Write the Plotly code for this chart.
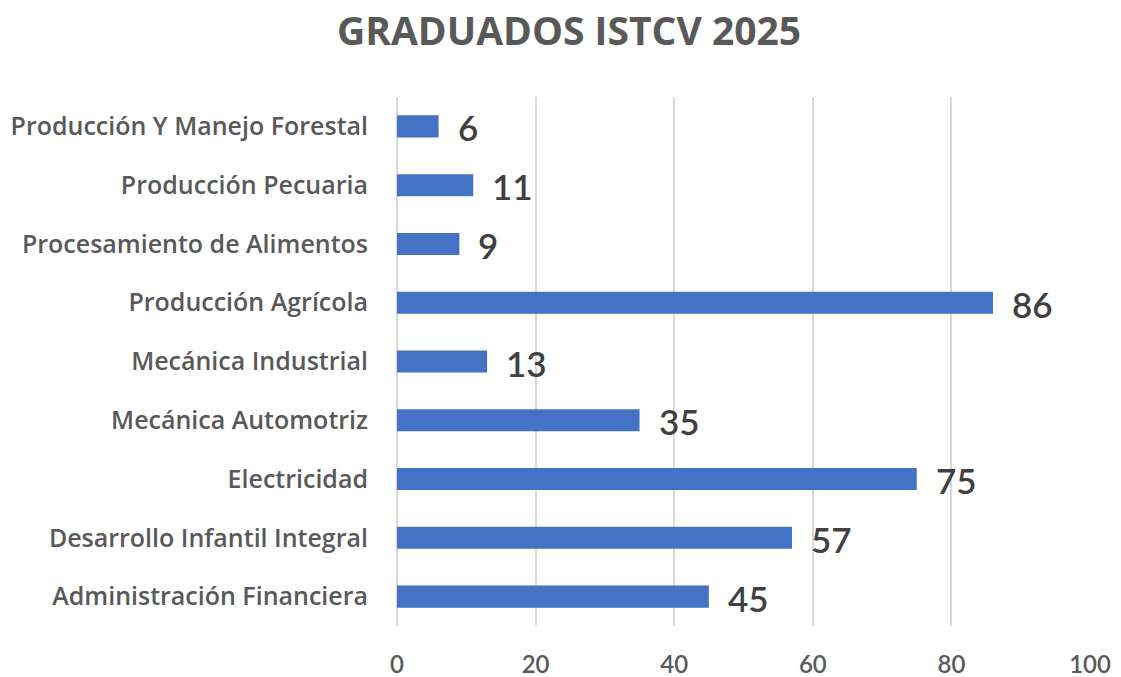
import plotly.graph_objects as go

categories = [
    "Administración Financiera",
    "Desarrollo Infantil Integral",
    "Electricidad",
    "Mecánica Automotriz",
    "Mecánica Industrial",
    "Producción Agrícola",
    "Procesamiento de Alimentos",
    "Producción Pecuaria",
    "Producción Y Manejo Forestal",
]
values = [45, 57, 75, 35, 13, 86, 9, 11, 6]
x_ticks = [0, 20, 40, 60, 80, 100]

fig = go.Figure()
fig.add_trace(go.Bar(
    x=values, y=categories, orientation="h",
    marker=dict(color="#4472C4", line=dict(width=0)),
    hoverinfo="x+y",
))

for c, v in zip(categories, values):
    fig.add_annotation(
        x=v, y=c, text=str(v), showarrow=False,
        xanchor="left", yanchor="middle", xshift=17, yshift=-1,
        font=dict(family="Lato", size=35, color="#404040", weight=600),
    )

W, H = 1121, 677
fig.update_layout(
    width=W, height=H,
    margin=dict(l=397, r=31, t=97, b=51, autoexpand=False),
    paper_bgcolor="white", plot_bgcolor="white",
    bargap=0.625,
    showlegend=False,
    title=dict(
        text="GRADUADOS ISTCV 2025",
        x=569 / W, xanchor="center", xref="container",
        y=1 - 31 / H, yref="container", yanchor="middle",
        font=dict(family="Open Sans", size=39, color="#595959", weight="bold"),
    ),
    xaxis=dict(
        range=[0, 100], tickvals=x_ticks, ticktext=[str(t) for t in x_ticks],
        showgrid=True, gridcolor="#D9D9D9", gridwidth=1.5,
        zeroline=True, zerolinecolor="#D9D9D9", zerolinewidth=1.5,
        showline=False, ticks="", ticklabelstandoff=22, automargin=False,
        tickfont=dict(family="Lato", size=24, color="#595959", weight=600),
        fixedrange=True,
    ),
    yaxis=dict(
        categoryorder="array", categoryarray=categories,
        showgrid=False, zeroline=False, showline=False, ticks="",
        ticklabelstandoff=28, automargin=False,
        tickfont=dict(family="Open Sans", size=25, color="#595959", weight=600),
        fixedrange=True,
    ),
)

fig.write_html("out.html", config={"displayModeBar": False})

# remove the browser's default page margin so the figure fills the window exactly
with open("out.html", encoding="utf-8") as f:
    html = f.read()
html = html.replace(
    "<head>",
    "<head><style>html,body{margin:0;padding:0;overflow:hidden;}</style>",
    1,
)
with open("out.html", "w", encoding="utf-8") as f:
    f.write(html)
